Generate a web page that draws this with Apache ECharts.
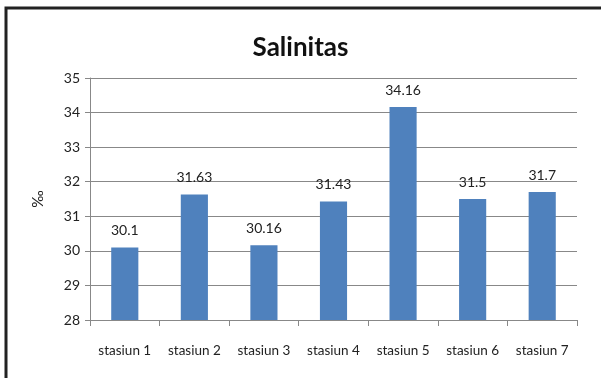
<!DOCTYPE html>
<html>
<head>
<meta charset="utf-8">
<script src="https://cdn.jsdelivr.net/npm/echarts@6/dist/echarts.min.js"></script>
<style>
  html, body { margin: 0; padding: 0; background: #fff; }
  #container { width: 601px; height: 378px; }
</style>
</head>
<body>
<div id="container"></div>
<script>
// data
var categories = ['stasiun 1', 'stasiun 2', 'stasiun 3', 'stasiun 4', 'stasiun 5', 'stasiun 6', 'stasiun 7'];
var salinity = [30.1, 31.63, 30.16, 31.43, 34.16, 31.5, 31.7];
var valueLabels = ['30.1', '31.63', '30.16', '31.43', '34.16', '31.5', '31.7'];

var myChart = echarts.init(document.getElementById('container'));
var font = 'Lato, "Open Sans", sans-serif';

myChart.setOption({
    animation: false,
    textStyle: { fontFamily: font },
    title: {
        text: 'Salinitas',
        left: 'center',
        top: 30,
        textStyle: { fontSize: 26, fontWeight: 'bold', color: '#111', fontFamily: font }
    },
    graphic: [{
        type: 'rect',
        shape: { x: 6, y: 8, width: 640, height: 420 },
        style: { fill: 'none', stroke: '#222', lineWidth: 3 }
    }],
    grid: { left: 90, right: 24, top: 78, bottom: 58 },
    xAxis: {
        type: 'category',
        data: categories,
        axisLine: { lineStyle: { color: '#888' } },
        axisTick: { show: true, interval: 0, length: 6, alignWithLabel: false, lineStyle: { color: '#888' } },
        axisLabel: { interval: 0, color: '#222', fontSize: 13.5, margin: 24, fontFamily: font }
    },
    yAxis: {
        type: 'value',
        min: 28,
        max: 35,
        interval: 1,
        name: '‰',
        nameLocation: 'middle',
        nameGap: 44,
        nameRotate: 90,
        nameTextStyle: { fontSize: 15, color: '#222' },
        axisLine: { show: true, lineStyle: { color: '#888' } },
        axisTick: { show: true, length: 5, lineStyle: { color: '#888' } },
        axisLabel: { color: '#222', fontSize: 14, margin: 10, fontFamily: font },
        splitLine: { lineStyle: { color: '#888', width: 1 } }
    },
    series: [{
        type: 'bar',
        data: salinity,
        barWidth: '39%',
        itemStyle: { color: '#4f81bd' },
        label: {
            show: true,
            position: 'top',
            distance: 10,
            color: '#222',
            fontSize: 14,
            fontFamily: font,
            formatter: function (p) { return valueLabels[p.dataIndex]; }
        }
    }]
});
</script>
</body>
</html>
